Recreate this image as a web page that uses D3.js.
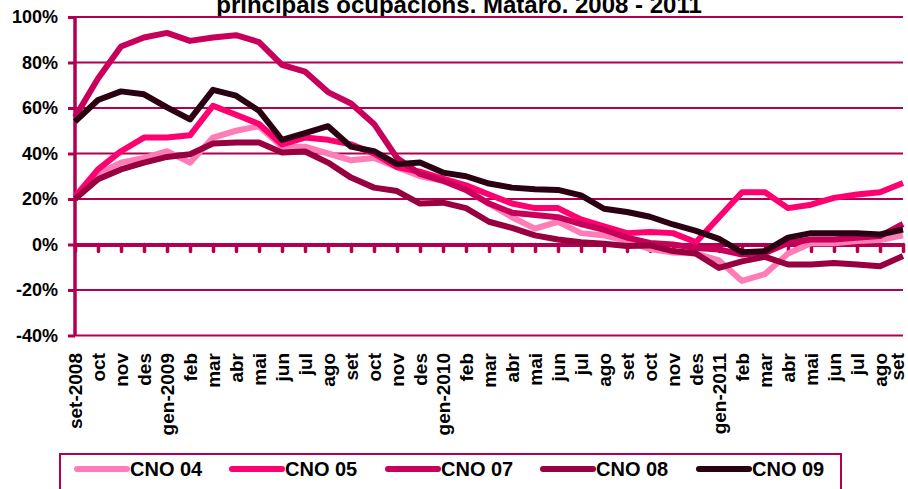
<!DOCTYPE html>
<html>
<head>
    <meta charset="UTF-8">
    <title>principals ocupacions. Mataró. 2008 - 2011</title>
    <style>
        body {
            margin: 0;
            padding: 0;
            background: #FFFFFF;
        }
        .chart text {
            font-family: Arial, "Liberation Sans", sans-serif;
            font-weight: bold;
            fill: #000000;
        }
    </style>
</head>
<body>

<script src="https://cdn.jsdelivr.net/npm/d3@7"></script>

<div class="content"></div>

<script>
    const months = ["set-2008", "oct", "nov", "des", "gen-2009", "feb", "mar", "abr", "mai", "jun", "jul", "ago",
        "set", "oct", "nov", "des", "gen-2010", "feb", "mar", "abr", "mai", "jun", "jul", "ago",
        "set", "oct", "nov", "des", "gen-2011", "feb", "mar", "abr", "mai", "jun", "jul", "ago", "set"];

    const seriesNames = ["CNO 04", "CNO 05", "CNO 07", "CNO 08", "CNO 09"];

    const cno04 = [21, 31, 36, 38, 41, 36, 47, 50, 52, 43, 43, 40, 37, 38, 34, 30, 28, 24, 18, 12,
        7, 10, 5, 4, 1.5, -2, -3.5, -4, -7, -16, -13, -4, 0.5, 0.5, 1.5, 2, 4];
    const cno05 = [21, 33, 41, 47, 47, 48, 61, 57, 53, 44, 47, 46, 44, 40, 34, 32, 29, 26, 22, 18,
        16, 16, 11, 8, 5, 5.5, 5, 1, 12, 23, 23, 16, 17.5, 20.5, 22, 23, 27];
    const cno07 = [56, 73, 87, 91, 93, 89.5, 91, 92, 89, 79, 76, 67, 62, 53, 38, 31, 28, 24, 18, 14,
        13, 12, 9, 6.5, 3, 0.7, 0, -1.5, -2.2, -4.4, -3.7, 0.7, 2.2, 2.2, 3, 3.7, 9];
    const cno08 = [20, 28.7, 33, 36, 38.5, 39.7, 44.4, 44.8, 44.8, 40.4, 40.9, 36, 29.4, 25, 23.5, 18, 18.4, 16, 10, 7.3,
        4, 2.2, 1, 0.3, -0.7, -0.4, -2.9, -4, -10.3, -7.4, -5.4, -8.8, -8.8, -8.1, -8.8, -9.6, -5.1];
    const cno09 = [54, 63.5, 67.3, 66, 60.3, 55, 68, 65.4, 58.8, 46, 49, 52, 43, 41, 35.3, 36, 31.6, 30, 26.8, 25,
        24.3, 24, 21.6, 15.7, 14.3, 12.2, 8.8, 6, 2.5, -3.4, -2.9, 3, 5, 4.9, 4.9, 4.4, 6.6];

    const yTicks = [-40, -20, 0, 20, 40, 60, 80, 100];

    const colors = ["#FF7DB6", "#FF0070", "#C8005C", "#990040", "#2A0012"];
    const gridColor = "#B0004F";

    const svgWidth = 908, svgHeight = 489;
    const plot = {left: 75, right: 903, top: 17, bottom: 335.5};

    const svg = d3.select(".content")
        .append("svg")
        .attr("class", "chart")
        .attr("width", svgWidth)
        .attr("height", svgHeight);

    const x = d3.scalePoint()
        .domain(d3.range(months.length))
        .range([plot.left, plot.right]);

    const y = d3.scaleLinear()
        .domain([-40, 100])
        .range([plot.bottom, plot.top]);

    // title (first line cut off at the top, like the original)
    svg.append("text")
        .attr("x", 459)
        .attr("y", 13)
        .attr("text-anchor", "middle")
        .style("font-size", "24px")
        .text("principals ocupacions. Mataró. 2008 - 2011");

    // grid + y axis
    const axisLeft = svg.append("g")
        .attr("transform", "translate(" + plot.left + ",0)")
        .call(d3.axisLeft(y).tickValues(yTicks).tickSize(7).tickSizeOuter(0)
            .tickFormat(d => d + "%"));
    axisLeft.select(".domain").remove();
    axisLeft.selectAll(".tick line")
        .attr("stroke", gridColor)
        .attr("stroke-width", 3);
    axisLeft.selectAll(".tick text")
        .attr("x", -17)
        .style("font-size", "18px");

    svg.append("g")
        .selectAll("line")
        .data(yTicks.filter(d => d !== 0))
        .join("line")
        .attr("x1", plot.left)
        .attr("x2", plot.right)
        .attr("y1", d => y(d))
        .attr("y2", d => y(d))
        .attr("stroke", gridColor)
        .attr("stroke-width", 2);

    svg.append("line")
        .attr("x1", plot.left)
        .attr("x2", plot.left)
        .attr("y1", y(100))
        .attr("y2", y(-40))
        .attr("stroke", gridColor)
        .attr("stroke-width", 3.5);

    // category axis on the 0% line
    const axisBottom = svg.append("g")
        .attr("transform", "translate(0," + y(0) + ")")
        .call(d3.axisBottom(x).tickSize(7).tickSizeOuter(0).tickFormat(""));
    axisBottom.select(".domain")
        .attr("stroke", gridColor)
        .attr("stroke-width", 4);
    axisBottom.selectAll(".tick line")
        .attr("stroke", gridColor)
        .attr("stroke-width", 3.5)
        .attr("stroke-linecap", "round");

    // month labels, last one kept inside the window
    svg.append("g")
        .selectAll("text")
        .data(months)
        .join("text")
        .attr("transform", (d, i) => "translate(" + Math.min(x(i) + 7, svgWidth - 4) + ",353) rotate(-90)")
        .attr("text-anchor", "end")
        .style("font-size", "19px")
        .text(d => d);

    // lines
    const allSeries = [cno04, cno05, cno07, cno08, cno09];
    const line = d3.line()
        .x((d, i) => x(i))
        .y(d => y(d));

    svg.append("g")
        .selectAll("path")
        .data(allSeries)
        .join("path")
        .attr("d", d => line(d))
        .attr("fill", "none")
        .attr("stroke", (d, i) => colors[i])
        .attr("stroke-width", 6)
        .attr("stroke-linejoin", "round");

    // legend
    const legend = svg.append("g");
    legend.append("rect")
        .attr("x", 60)
        .attr("y", 454)
        .attr("width", 781)
        .attr("height", 60)
        .attr("fill", "none")
        .attr("stroke", gridColor)
        .attr("stroke-width", 2);

    const legendX = [77, 232, 388, 543, 699];
    const item = legend.selectAll("g.item")
        .data(seriesNames)
        .join("g")
        .attr("class", "item")
        .attr("transform", (d, i) => "translate(" + legendX[i] + ",469)");
    item.append("line")
        .attr("x1", 0)
        .attr("x2", 50)
        .attr("stroke", (d, i) => colors[i])
        .attr("stroke-width", 6)
        .attr("stroke-linecap", "round");
    item.append("text")
        .attr("x", 53)
        .attr("y", 7)
        .style("font-size", "20px")
        .text(d => d);
</script>
</body>
</html>
